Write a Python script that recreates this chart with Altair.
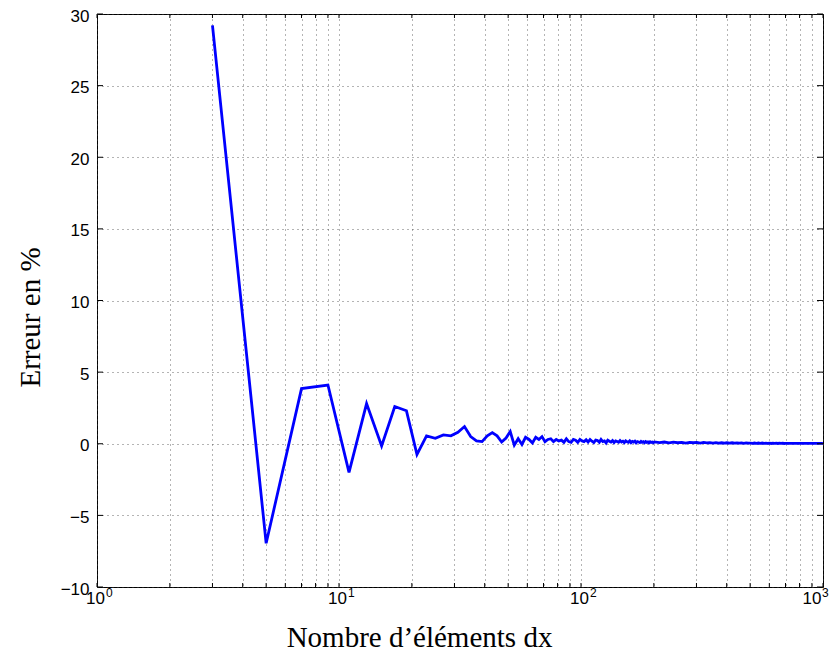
import altair as alt
import pandas as pd

# Data (n = number of elements dx, err = error in %)
n_head = [3, 5, 7, 9, 11, 13, 15, 17, 19, 21, 23, 25, 27, 29, 31, 33, 35, 37, 39, 41,
          43, 45, 47, 49, 51, 53, 55, 57, 59, 61, 63, 65, 67, 69, 71, 73, 75, 77, 79, 81,
          83, 85, 87, 89, 91, 93]
err_head = [29.2, -6.95, 3.85, 4.1, -2.0, 2.8, -0.15, 2.6, 2.3, -0.75, 0.55, 0.38, 0.62, 0.55, 0.8, 1.2, 0.5, 0.2, 0.15, 0.55,
            0.78, 0.55, 0.12, 0.4, 0.85, -0.1, 0.35, -0.05, 0.45, 0.3, 0.05, 0.45, 0.3, 0.5, 0.15, 0.3, 0.35, 0.15, 0.3, 0.2,
            0.25, 0.1, 0.35, 0.15, 0.1, 0.3]
n_mid = list(range(95, 202, 2))
err_mid = [0.25, 0.1, 0.3, 0.2, 0.15, 0.28, 0.12, 0.3, 0.18, 0.08, 0.25, 0.22, 0.1, 0.3, 0.15, 0.2, 0.05, 0.25, 0.18, 0.12,
           0.22, 0.08, 0.2, 0.15, 0.1, 0.22, 0.12, 0.18, 0.08, 0.2, 0.14, 0.1, 0.2, 0.08, 0.16, 0.12, 0.18, 0.06, 0.15, 0.12,
           0.08, 0.17, 0.1, 0.14, 0.07, 0.15, 0.1, 0.13, 0.06, 0.14, 0.09, 0.12, 0.07, 0.13]
n_tail = list(range(211, 1000, 10)) + [999]
err_tail = [0.08, 0.12, 0.06, 0.11, 0.07, 0.1, 0.05, 0.1, 0.07, 0.09, 0.05, 0.09, 0.06, 0.08, 0.05, 0.08, 0.05, 0.07, 0.04, 0.07,
            0.05, 0.07, 0.04, 0.06, 0.04, 0.06, 0.03, 0.06, 0.04, 0.05, 0.03, 0.05, 0.03, 0.05, 0.03, 0.05, 0.03, 0.04, 0.03, 0.04,
            0.02, 0.04, 0.03, 0.04, 0.02, 0.04, 0.03, 0.04, 0.02, 0.03, 0.02, 0.03, 0.02, 0.03, 0.02, 0.03, 0.02, 0.03, 0.02, 0.03,
            0.02, 0.03, 0.02, 0.03, 0.02, 0.03, 0.02, 0.03, 0.02, 0.03, 0.02, 0.03, 0.02, 0.02, 0.02, 0.02, 0.02, 0.02, 0.02, 0.02]

x_grid = [1, 2, 3, 4, 5, 6, 7, 8, 9, 10, 20, 30, 40, 50, 60, 70, 80, 90,
          100, 200, 300, 400, 500, 600, 700, 800, 900, 1000]
x_major = [1, 10, 100, 1000]
x_exponents = ["0", "1", "2", "3"]
y_ticks = [-10, -5, 0, 5, 10, 15, 20, 25, 30]

W, H = 726, 573

df = pd.DataFrame({"n": n_head + n_mid + n_tail, "err": err_head + err_mid + err_tail})
df_xg = pd.DataFrame({"v": x_grid})
df_exp = pd.DataFrame({"v": x_major, "e": x_exponents})
df_yt = pd.DataFrame({"v": y_ticks})

xscale = alt.Scale(type="log", domain=[1, 1000], nice=False)
yscale = alt.Scale(domain=[-10, 30], nice=False, zero=False)

label_expr = "indexof([1, 10, 100, 1000], datum.value) >= 0 ? '10' : ''"

line = alt.Chart(df).mark_line(color="#0000ff", strokeWidth=2.8, clip=True).encode(
    x=alt.X("n:Q", scale=xscale,
            axis=alt.Axis(values=x_grid, labelExpr=label_expr, labelFlush=False, labelOffset=-2,
                          labelAlign={"condition": {"test": "datum.value == 1000", "value": "right"},
                                      "value": "center"},
                          labelPadding=3, title="Nombre d\u2019\u00e9l\u00e9ments dx",
                          titleX=322, titleY=59, titleAlign="center", titleBaseline="alphabetic")),
    y=alt.Y("err:Q", scale=yscale,
            axis=alt.Axis(values=y_ticks, labelPadding=8, labelOffset=2, labelFlush=False,
                          title="Erreur en %", titleX=-67, titleY=303, titleAngle=-90,
                          titleAlign="center", titleBaseline="middle")),
)

exp_style = dict(align="left", baseline="alphabetic", fontSize=12, font="Liberation Sans", color="black")
exps_main = alt.Chart(df_exp).transform_filter("datum.v < 1000").mark_text(dx=9, **exp_style).encode(
    x=alt.X("v:Q", scale=xscale), y=alt.value(H + 10), text="e:N")
exps_last = alt.Chart(df_exp).transform_filter("datum.v == 1000").mark_text(dx=-1, **exp_style).encode(
    x=alt.X("v:Q", scale=xscale), y=alt.value(H + 10), text="e:N")

tick_bottom = alt.Chart(df_xg).mark_rule(color="black", strokeWidth=1).encode(
    x=alt.X("v:Q", scale=xscale), y=alt.value(H), y2=alt.value(H - 4))
tick_top = alt.Chart(df_xg).mark_rule(color="black", strokeWidth=1).encode(
    x=alt.X("v:Q", scale=xscale), y=alt.value(0), y2=alt.value(4))
tick_left = alt.Chart(df_yt).mark_rule(color="black", strokeWidth=1).encode(
    y=alt.Y("v:Q", scale=yscale), x=alt.value(0), x2=alt.value(6))
tick_right = alt.Chart(df_yt).mark_rule(color="black", strokeWidth=1).encode(
    y=alt.Y("v:Q", scale=yscale), x=alt.value(W), x2=alt.value(W - 6))

chart = alt.layer(line, tick_bottom, tick_top, tick_left, tick_right, exps_main, exps_last).properties(
    width=W, height=H,
    autosize=alt.AutoSizeParams(type="none"),
    padding={"left": 89, "top": 6, "right": 7, "bottom": 64},
).configure_view(
    stroke="black", strokeWidth=1
).configure_axis(
    domain=False, ticks=False,
    grid=True, gridColor="#444444", gridDash=[1, 4], gridWidth=1, gridOpacity=0.8,
    labelFont="Liberation Sans", labelFontSize=17, labelColor="black",
    titleFont="Liberation Serif", titleFontSize=29, titleFontWeight="normal", titleColor="black",
)

chart.save("out.html", embed_options={"renderer": "svg", "actions": False})
